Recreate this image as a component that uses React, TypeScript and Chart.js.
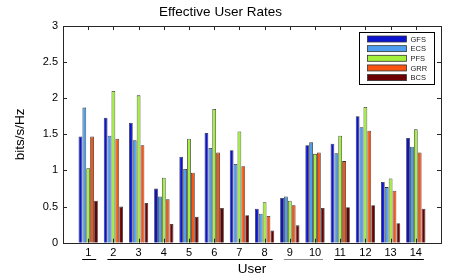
import { useEffect, useRef } from 'react';
import { Chart, registerables } from 'chart.js';

Chart.register(...registerables);

const users = ['1', '2', '3', '4', '5', '6', '7', '8', '9', '10', '11', '12', '13', '14'];
const seriesNames = ['GFS', 'ECS', 'PFS', 'GRR', 'BCS'];
const gfs = [1.47, 1.73, 1.66, 0.75, 1.19, 1.52, 1.28, 0.47, 0.62, 1.35, 1.37, 1.75, 0.84, 1.45];
const ecs = [1.87, 1.48, 1.42, 0.64, 1.02, 1.31, 1.09, 0.40, 0.64, 1.39, 1.24, 1.60, 0.77, 1.33];
const pfs = [1.03, 2.10, 2.04, 0.90, 1.44, 1.85, 1.54, 0.56, 0.58, 1.23, 1.48, 1.88, 0.89, 1.57];
const grr = [1.47, 1.44, 1.35, 0.60, 0.97, 1.25, 1.06, 0.37, 0.52, 1.25, 1.13, 1.55, 0.72, 1.25];
const bcs = [0.58, 0.50, 0.55, 0.26, 0.36, 0.48, 0.38, 0.17, 0.24, 0.48, 0.49, 0.52, 0.27, 0.47];
const seriesColors = ['#0a14d0', '#4c9ef0', '#a2f03c', '#fa5412', '#6c0000'];
const yTicks = [0, 0.5, 1, 1.5, 2, 2.5, 3];
const yTickLabels = ['0', '0.5', '1', '1.5', '2', '2.5', '3'];
const underlineGroups: [number, number][] = [[1, 1], [2, 8], [9, 10], [11, 14]];
const underlineColors = ['#000000', '#000000', '#8a8a8a', '#000000'];

const titleText = 'Effective User Rates';
const xTitle = 'User';
const yTitle = 'bits/s/Hz';
const FONT = '"Liberation Sans", Arial, Helvetica, sans-serif';

const decor = {
  id: 'decor',
  afterDatasetsDraw(chart: any) {
    const { ctx, chartArea: a, scales } = chart;
    const xs = scales.x;
    const ys = scales.y;
    ctx.save();
    ctx.strokeStyle = '#262626';
    ctx.lineWidth = 1;
    ctx.beginPath();
    yTicks.forEach((v) => {
      if (v <= 0 || v >= 3) return;
      const py = Math.round(ys.getPixelForValue(v)) + 0.5;
      ctx.moveTo(a.left, py);
      ctx.lineTo(a.left + 4, py);
      ctx.moveTo(a.right, py);
      ctx.lineTo(a.right - 4, py);
    });
    users.forEach((_u, i) => {
      const px = Math.round(xs.getPixelForValue(i + 1)) + 0.5;
      ctx.moveTo(px, a.bottom);
      ctx.lineTo(px, a.bottom - 4);
      ctx.moveTo(px, a.top);
      ctx.lineTo(px, a.top + 4);
    });
    ctx.stroke();
    ctx.strokeRect(Math.round(a.left) + 0.5, Math.round(a.top) + 0.5, Math.round(a.width), Math.round(a.height));

    // legend
    const bx = Math.round(a.right - 82) + 0.5;
    const by = Math.round(a.top + 6) + 0.5;
    const bw = 75;
    const bh = 52;
    ctx.fillStyle = '#ffffff';
    ctx.fillRect(bx, by, bw, bh);
    ctx.strokeStyle = '#000000';
    ctx.strokeRect(bx, by, bw, bh);
    ctx.font = `7.5px ${FONT}`;
    ctx.textBaseline = 'middle';
    ctx.textAlign = 'left';
    seriesNames.forEach((name, i) => {
      const cy = by + 6.5 + i * 9.65;
      ctx.fillStyle = seriesColors[i];
      ctx.fillRect(bx + 8, cy - 3, 39, 6);
      ctx.strokeStyle = '#333333';
      ctx.lineWidth = 0.8;
      ctx.strokeRect(bx + 8, cy - 3, 39, 6);
      ctx.fillStyle = '#222222';
      ctx.fillText(name, bx + 51, cy + 0.5);
    });

    // underlines under tick labels
    ctx.lineWidth = 1;
    underlineGroups.forEach(([s, e], i) => {
      const x0 = xs.getPixelForValue(s) - 6;
      const x1 = xs.getPixelForValue(e) + 8;
      ctx.strokeStyle = underlineColors[i];
      ctx.beginPath();
      ctx.moveTo(x0, 259.5);
      ctx.lineTo(x1, 259.5);
      ctx.stroke();
    });
    ctx.restore();
  },
};

export default function App() {
  const ref = useRef<HTMLCanvasElement | null>(null);
  useEffect(() => {
    document.body.style.margin = '0';
    const canvas = ref.current;
    if (!canvas) return;
    const pad = (arr: number[]) => [null, ...arr, null];
    const all = [gfs, ecs, pfs, grr, bcs];
    const chart = new Chart(canvas, {
      type: 'bar',
      data: {
        labels: ['', ...users, ''],
        datasets: seriesNames.map((name, i) => ({
          label: name,
          data: pad(all[i]) as any,
          backgroundColor: seriesColors[i],
          borderColor: '#303030',
          borderWidth: 0.8,
          categoryPercentage: 0.77,
          barPercentage: 0.97,
        })),
      },
      options: {
        responsive: false,
        animation: false,
        devicePixelRatio: 1,
        layout: { padding: { left: 0, right: 9, top: 0, bottom: 0 } },
        plugins: {
          legend: { display: false },
          tooltip: { enabled: false },
          title: {
            display: true,
            text: titleText,
            color: '#000000',
            font: { family: FONT, size: 13.5, weight: 'normal' },
            padding: { top: 4.4, bottom: 5.4 },
          },
        },
        scales: {
          x: {
            type: 'category',
            offset: false,
            grid: { display: false, drawTicks: false, tickLength: 0 },
            border: { display: false },
            ticks: {
              autoSkip: false,
              maxRotation: 0,
              minRotation: 0,
              padding: 4,
              color: '#000000',
              font: { family: FONT, size: 11 },
            },
            title: {
              display: true,
              text: xTitle,
              color: '#000000',
              font: { family: FONT, size: 13.5 },
              padding: { top: 0, bottom: 0 },
            },
            afterFit: (s: any) => {
              s.height = 34.3;
            },
          },
          y: {
            min: 0,
            max: 3,
            grid: { display: false, drawTicks: false, tickLength: 0 },
            border: { display: false },
            ticks: {
              stepSize: 0.5,
              padding: 5,
              color: '#000000',
              font: { family: FONT, size: 11 },
              callback: (v: any) => {
                const idx = yTicks.indexOf(Number(v));
                return idx >= 0 ? yTickLabels[idx] : '';
              },
            },
            title: {
              display: true,
              text: yTitle,
              color: '#000000',
              font: { family: FONT, size: 13.5 },
              padding: { top: 11.9, bottom: 0 },
            },
            afterFit: (s: any) => {
              s.width = 63;
            },
          },
        },
      },
      plugins: [decor],
    });
    return () => chart.destroy();
  }, []);
  return (
    <div style={{ position: 'fixed', left: 0, top: 0, width: 450, height: 277, background: '#ffffff' }}>
      <canvas ref={ref} width={450} height={277} />
    </div>
  );
}
